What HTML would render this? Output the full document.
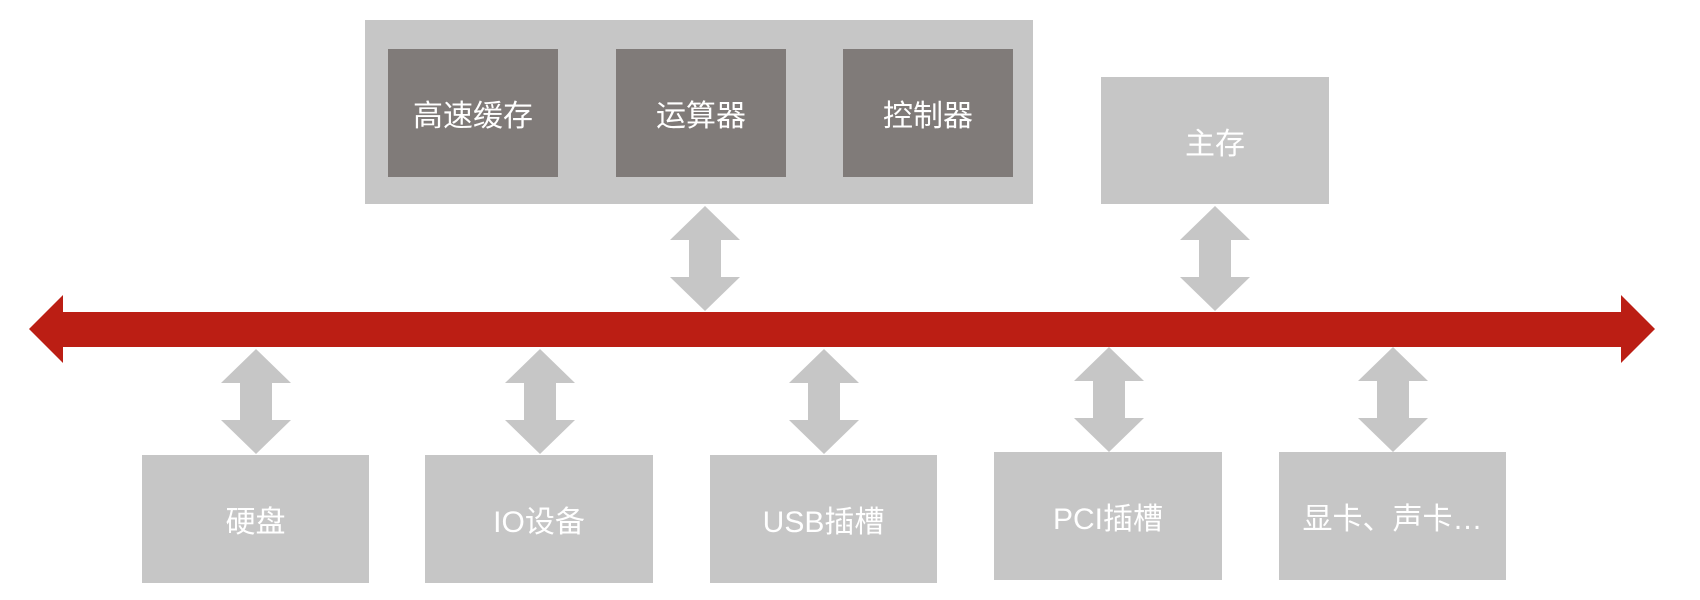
<!DOCTYPE html>
<html><head><meta charset="utf-8"><style>
body{margin:0;width:1700px;height:600px;background:#fff;overflow:hidden;position:relative;font-family:"Liberation Sans","Noto Sans CJK SC",sans-serif}
.b{position:absolute;background:#c6c6c6;color:#fff;font-size:30px;display:flex;align-items:center;justify-content:center}
.d{background:#807b79}
svg{position:absolute;left:0;top:0}
</style></head><body>
<div class="b" style="left:365px;top:20px;width:668px;height:184px"></div>
<div class="b d" style="left:388px;top:49px;width:170px;height:128px">高速缓存</div>
<div class="b d" style="left:616px;top:49px;width:170px;height:128px">运算器</div>
<div class="b d" style="left:843px;top:49px;width:170px;height:128px">控制器</div>
<div class="b" style="left:1101px;top:77px;width:228px;height:127px">主存</div>
<div class="b" style="left:142px;top:455px;width:227px;height:128px">硬盘</div>
<div class="b" style="left:425px;top:455px;width:228px;height:128px">IO设备</div>
<div class="b" style="left:710px;top:455px;width:227px;height:128px">USB插槽</div>
<div class="b" style="left:994px;top:452px;width:228px;height:128px">PCI插槽</div>
<div class="b" style="left:1279px;top:452px;width:227px;height:128px">显卡、声卡…</div>
<svg width="1700" height="600">
<polygon fill="#bb1e14" points="29,329 63,295 63,312 1621,312 1621,295 1655,329 1621,363 1621,347 63,347 63,363"/>
<defs><polygon id="a" fill="#c6c6c6" points="0,0 35,34 16,34 16,71 35,71 0,105 -35,71 -16,71 -16,34 -35,34"/></defs>
<use href="#a" x="705" y="206"/>
<use href="#a" x="1215" y="206"/>
<use href="#a" x="256" y="349"/>
<use href="#a" x="540" y="349"/>
<use href="#a" x="824" y="349"/>
<use href="#a" x="1109" y="347"/>
<use href="#a" x="1393" y="347"/>
</svg>
</body></html>
